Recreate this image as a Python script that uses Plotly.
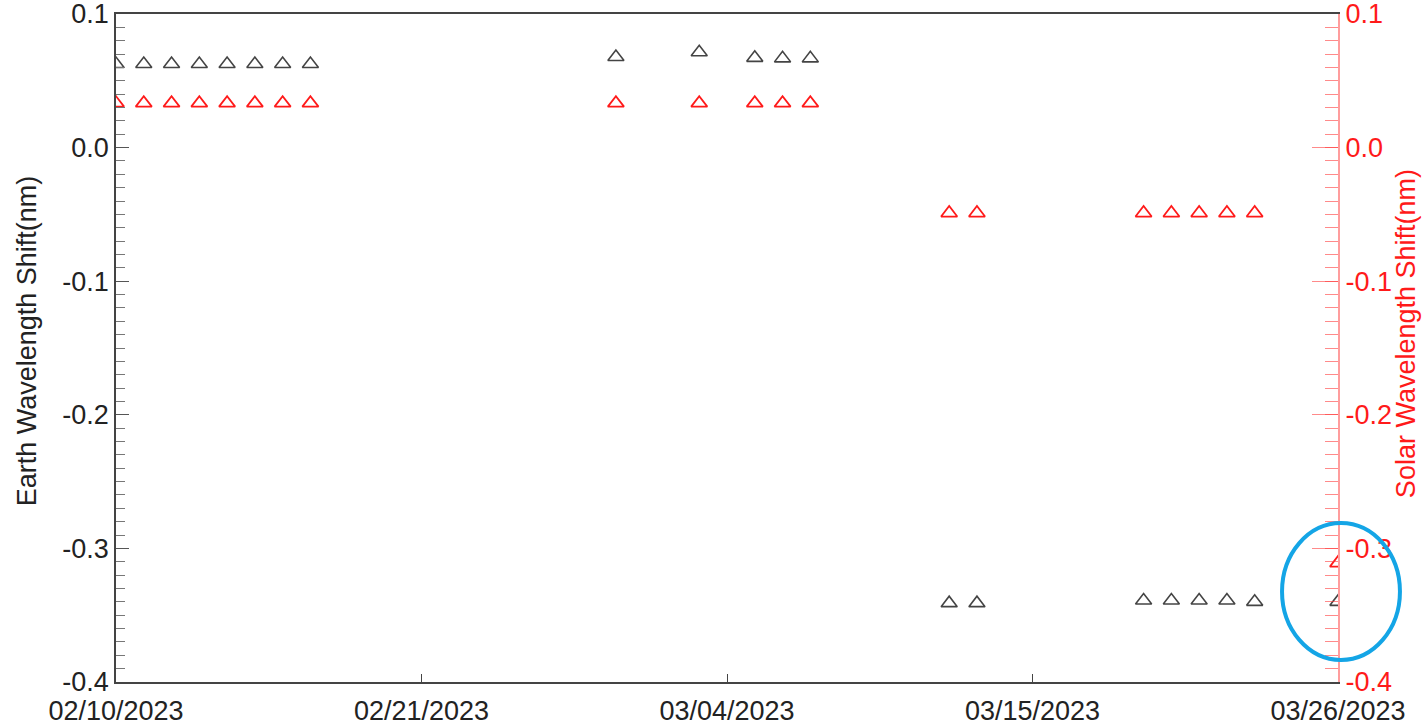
import plotly.graph_objects as go

# ---- data ----
dates = ["2023-02-10", "2023-02-11", "2023-02-12", "2023-02-13", "2023-02-14",
         "2023-02-15", "2023-02-16", "2023-02-17", "2023-02-28", "2023-03-03",
         "2023-03-05", "2023-03-06", "2023-03-07", "2023-03-12", "2023-03-13",
         "2023-03-19", "2023-03-20", "2023-03-21", "2023-03-22", "2023-03-23",
         "2023-03-26"]
earth_shift = [0.0626, 0.0626, 0.0626, 0.0626, 0.0626, 0.0626, 0.0626, 0.0626,
               0.0678, 0.0714, 0.0672, 0.0668, 0.0668, -0.341, -0.341,
               -0.339, -0.339, -0.339, -0.339, -0.340, -0.340]
solar_shift = [0.0333, 0.0333, 0.0333, 0.0333, 0.0333, 0.0333, 0.0333, 0.0333,
               0.0333, 0.0333, 0.0333, 0.0333, 0.0333, -0.049, -0.049,
               -0.049, -0.049, -0.049, -0.049, -0.049, -0.311]

x_tickvals = ["2023-02-10", "2023-02-21", "2023-03-04", "2023-03-15", "2023-03-26"]
x_ticktext = ["02/10/2023", "02/21/2023", "03/04/2023", "03/15/2023", "03/26/2023"]
y_tickvals = [0.1, 0.0, -0.1, -0.2, -0.3, -0.4]
y_ticktext = ["0.1", "0.0", "-0.1", "-0.2", "-0.3", "-0.4"]
y_range = [-0.40001, 0.10001]
x_range = ["2023-02-10", "2023-03-26"]

FONT = "Liberation Sans, Arial, sans-serif"
FS = 27

fig = go.Figure()
fig.add_trace(go.Scatter(
    x=dates, y=earth_shift, mode="markers", name="Earth",
    marker=dict(symbol="triangle-up-open", size=14, color="#444444",
                line=dict(width=1.6, color="#444444")),
    yaxis="y", showlegend=False))
fig.add_trace(go.Scatter(
    x=dates, y=solar_shift, mode="markers", name="Solar",
    marker=dict(symbol="triangle-up-open", size=14, color="#ff1a1a",
                line=dict(width=1.8, color="#ff1a1a")),
    yaxis="y2", showlegend=False))

fig.update_layout(
    width=1422, height=728,
    margin=dict(l=116, r=84, t=14, b=46, autoexpand=False),
    paper_bgcolor="white", plot_bgcolor="white",
    font=dict(family=FONT, size=FS, color="#222222"),
    showlegend=False,
    xaxis=dict(
        type="date", range=x_range, tickvals=x_tickvals, ticktext=x_ticktext,
        showgrid=False, zeroline=False, showline=True, linecolor="#444444",
        linewidth=1.5, mirror=True, ticks="inside", ticklen=8, tickwidth=1,
        tickcolor="#444444", tickfont=dict(family=FONT, size=FS, color="#222222"),
        ticklabelstandoff=4, ticklabeloverflow="allow",
        automargin=False),
    yaxis=dict(
        range=y_range, tickvals=y_tickvals, ticktext=y_ticktext,
        showgrid=False, zeroline=False, showline=True, linecolor="#444444",
        linewidth=1.5, ticks="inside", ticklen=13, tickwidth=1, tickcolor="#555555",
        minor=dict(dtick=0.01, ticks="inside", ticklen=9, tickwidth=1,
                   tickcolor="#777777", showgrid=False),
        tickfont=dict(family=FONT, size=FS, color="#222222"),
        ticklabeloverflow="allow",
        automargin=False),
    yaxis2=dict(
        range=y_range, tickvals=y_tickvals, ticktext=y_ticktext,
        overlaying="y", side="right", anchor="x",
        showgrid=False, zeroline=False, showline=True,
        linecolor="rgba(255,60,60,0.5)", linewidth=2,
        ticks="inside", ticklen=26, tickwidth=1.2, tickcolor="rgba(255,60,60,0.6)",
        minor=dict(dtick=0.01, ticks="inside", ticklen=13, tickwidth=1.2,
                   tickcolor="rgba(255,60,60,0.6)", showgrid=False),
        tickfont=dict(family=FONT, size=FS, color="#ff1a1a"),
        ticklabeloverflow="allow",
        automargin=False),
    annotations=[
        dict(text="Earth Wavelength Shift(nm)", xref="paper", yref="paper",
             x=-0.0728, y=0.51, xanchor="center", yanchor="middle",
             textangle=-90, showarrow=False,
             font=dict(family=FONT, size=FS, color="#222222")),
        dict(text="Solar Wavelength Shift(nm)", xref="paper", yref="paper",
             x=1.0555, y=0.522, xanchor="center", yanchor="middle",
             textangle=-90, showarrow=False,
             font=dict(family=FONT, size=FS, color="#ff1a1a")),
    ],
    shapes=[
        dict(type="circle", xref="paper", yref="paper",
             x0=0.9542, x1=1.0507, y0=0.033, y1=0.238,
             line=dict(color="#14a5e6", width=4)),
    ],
)

fig.write_html("out.html",
               config={"displayModeBar": False},
               post_script="document.body.style.margin='0';"
                           "document.body.style.overflow='hidden';")
